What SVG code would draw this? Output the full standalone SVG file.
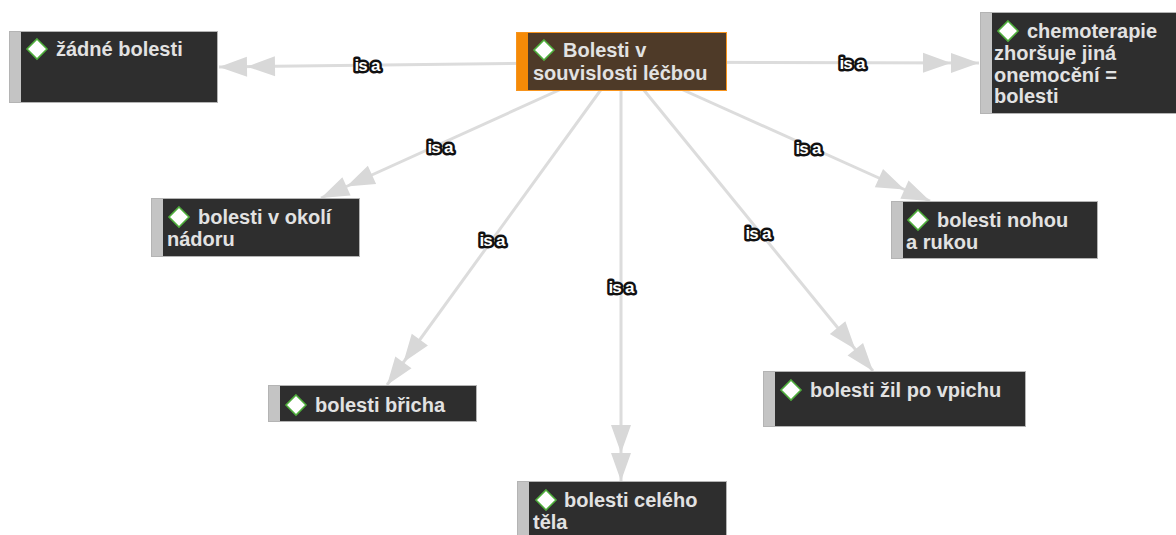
<svg xmlns="http://www.w3.org/2000/svg" width="1176" height="535" viewBox="0 0 1176 535">
  <style>
    .edge { stroke: #dcdcdc; stroke-width: 3; fill: none; marker-end: url(#dbl); }
    .box { fill: #2e2e2e; stroke: #b4b4b4; stroke-width: 1; }
    .strip { fill: #c4c4c4; }
    .root .box { fill: #4e3a28; stroke: #f7941d; }
    .root .strip { fill: #f58a07; }
    .t { font-family: "Liberation Sans", Arial, sans-serif; font-size: 20px; font-weight: bold; fill: #e2e2e2; }
    .dia { fill: #ffffff; stroke: #4fae3c; stroke-width: 1.6; }
    .lbl { font-family: "Liberation Sans", Arial, sans-serif; font-size: 17px; font-weight: bold; fill: #ffffff; stroke: #111; stroke-width: 5; stroke-linejoin: round; paint-order: stroke; text-anchor: middle; letter-spacing: -0.8px; }
  </style>
  <defs>
    <marker id="dbl" markerUnits="userSpaceOnUse" markerWidth="60" markerHeight="24" refX="58" refY="12" orient="auto" viewBox="0 0 60 24">
      <path d="M58 12 L30 2 L30 22 Z M30 12 L2 2 L2 22 Z" fill="#d8d8d8"/>
    </marker>
    <path id="gem" d="M0 -10 L10 0 L0 10 L-10 0 Z"/>
  </defs>

  <rect width="1176" height="535" fill="#ffffff"/>

  <!-- connectors, all leaving the root node -->
  <g id="edges">
    <line class="edge" x1="621" y1="62" x2="219" y2="67"/>
    <line class="edge" x1="621" y1="62" x2="979" y2="63"/>
    <line class="edge" x1="621" y1="62" x2="321" y2="198"/>
    <line class="edge" x1="621" y1="62" x2="387" y2="385"/>
    <line class="edge" x1="621" y1="62" x2="621" y2="481"/>
    <line class="edge" x1="621" y1="62" x2="873" y2="371"/>
    <line class="edge" x1="621" y1="62" x2="930" y2="201"/>
  </g>

  <g id="root" class="root">
    <rect class="box" x="516.5" y="32.5" width="210" height="58"/>
    <rect class="strip" x="517" y="33" width="11" height="57"/>
    <use href="#gem" class="dia" x="544" y="50"/>
    <text class="t" x="563" y="57">Bolesti v</text>
    <text class="t" x="533" y="80">souvislosti léčbou</text>
  </g>

  <g id="n-zadne">
    <rect class="box" x="9.5" y="31.5" width="208" height="71"/>
    <rect class="strip" x="10" y="32" width="11" height="70"/>
    <use href="#gem" class="dia" x="37" y="49"/>
    <text class="t" x="56" y="56">žádné bolesti</text>
  </g>

  <g id="n-chemo">
    <rect class="box" x="980.5" y="12.5" width="206" height="101"/>
    <rect class="strip" x="981" y="13" width="11" height="100"/>
    <use href="#gem" class="dia" x="1008" y="31"/>
    <text class="t" x="1027" y="38">chemoterapie</text>
    <text class="t" x="994" y="60">zhoršuje jiná</text>
    <text class="t" x="994" y="82">onemocění =</text>
    <text class="t" x="994" y="103">bolesti</text>
  </g>

  <g id="n-okoli">
    <rect class="box" x="151.5" y="198.5" width="208" height="58"/>
    <rect class="strip" x="152" y="199" width="11" height="57"/>
    <use href="#gem" class="dia" x="179" y="217"/>
    <text class="t" x="198" y="224">bolesti v okolí</text>
    <text class="t" x="167" y="246">nádoru</text>
  </g>

  <g id="n-bricha">
    <rect class="box" x="268.5" y="385.5" width="208" height="36"/>
    <rect class="strip" x="269" y="386" width="11" height="35"/>
    <use href="#gem" class="dia" x="296" y="405"/>
    <text class="t" x="315" y="412">bolesti břicha</text>
  </g>

  <g id="n-celeho">
    <rect class="box" x="517.5" y="481.5" width="209" height="60"/>
    <rect class="strip" x="518" y="482" width="11" height="59"/>
    <use href="#gem" class="dia" x="546" y="500"/>
    <text class="t" x="564" y="507">bolesti celého</text>
    <text class="t" x="533" y="529">těla</text>
  </g>

  <g id="n-nohou">
    <rect class="box" x="891.5" y="201.5" width="206" height="57"/>
    <rect class="strip" x="892" y="202" width="11" height="56"/>
    <use href="#gem" class="dia" x="918" y="220"/>
    <text class="t" x="937" y="227">bolesti nohou</text>
    <text class="t" x="906" y="249">a rukou</text>
  </g>

  <g id="n-zil">
    <rect class="box" x="763.5" y="371.5" width="262" height="55"/>
    <rect class="strip" x="764" y="372" width="11" height="54"/>
    <use href="#gem" class="dia" x="791" y="390"/>
    <text class="t" x="810" y="397">bolesti žil po vpichu</text>
  </g>

  <!-- relation labels -->
  <g id="labels">
    <text class="lbl" x="367" y="71">is a</text>
    <text class="lbl" x="852" y="69">is a</text>
    <text class="lbl" x="440" y="153">is a</text>
    <text class="lbl" x="492" y="246">is a</text>
    <text class="lbl" x="621" y="293">is a</text>
    <text class="lbl" x="758" y="239">is a</text>
    <text class="lbl" x="808" y="154">is a</text>
  </g>
</svg>
